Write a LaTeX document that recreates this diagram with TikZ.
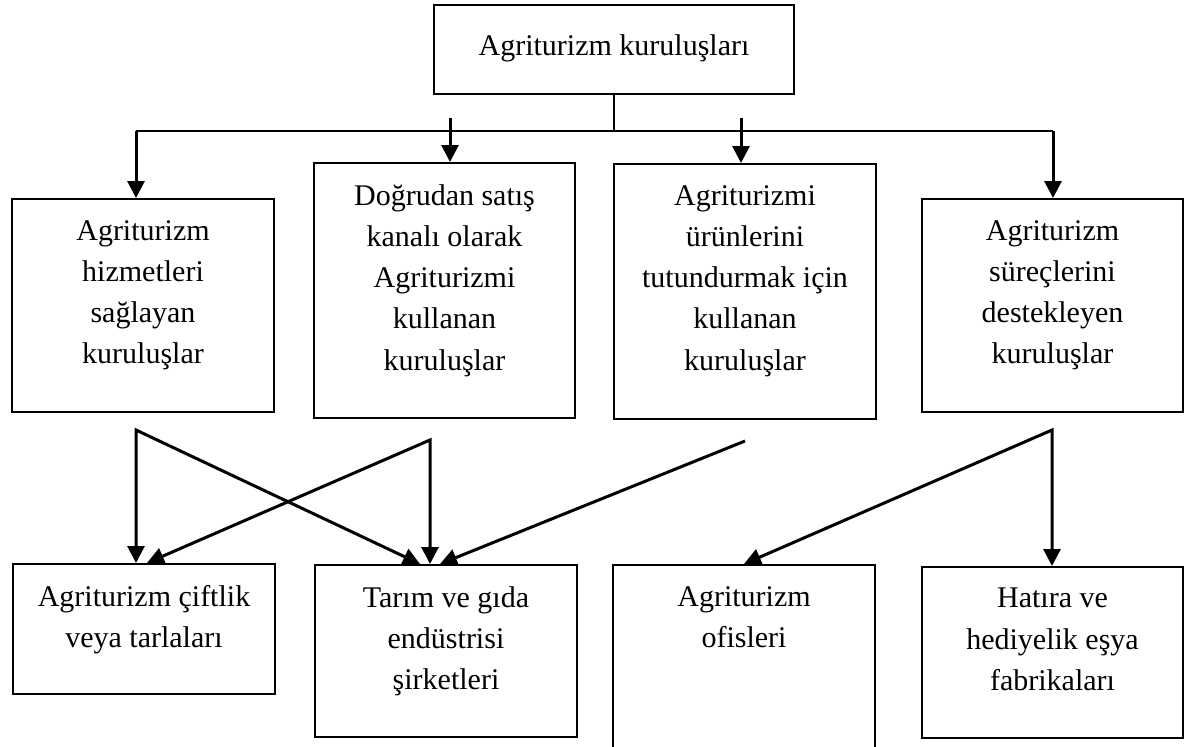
\documentclass[tikz,border=0pt]{standalone}
\usepackage{fontspec}
\setmainfont{Liberation Serif}
\usepackage{tikz}
\usetikzlibrary{positioning}
\usetikzlibrary{arrows,arrows.meta}
\usetikzlibrary{calc}
\tikzstyle{block} = [draw, line width=2pt, fill=white, rectangle, minimum width=262pt, inner sep=0pt]
\tikzstyle{txt} = [align=center, inner sep=0pt, node distance=22pt, font=\fontsize{30}{41.3}\selectfont, execute at begin node=\strut]
\tikzstyle{conn} = [draw, line width=3pt]
\tikzstyle{bus} = [draw, line width=1.7pt]
\tikzstyle{coord} = [coordinate]

\begin{document}
\begin{tikzpicture}[x=1pt, y=-1pt, >={Triangle[length=17pt, width=17pt]}]
	\clip (0,0) rectangle (1189,747);
	\fill [white] (0,0) rectangle (1189,747);

	\node [block, minimum width=360pt, minimum height=89pt] (kurulus) at (614,49.5) {};
	\node [txt, below=of kurulus.north] (kurulusT) {Agriturizm kuruluşları};

	\node [block, minimum height=213pt] (hizmet) at (143,305.5) {};
	\node [txt, below=of hizmet.north] (hizmetT) {Agriturizm\\hizmetleri\\sağlayan\\kuruluşlar};
	\node [block, minimum width=261pt, minimum height=255pt] (satis) at (444.5,290.5) {};
	\node [txt, below=of satis.north] (satisT) {Doğrudan satış\\kanalı olarak\\Agriturizmi\\kullanan\\kuruluşlar};
	\node [block, minimum height=255pt] (urun) at (745,291.5) {};
	\node [txt, below=of urun.north] (urunT) {Agriturizmi\\ürünlerini\\tutundurmak için\\kullanan\\kuruluşlar};
	\node [block, minimum width=261pt, minimum height=213pt] (destek) at (1052.5,305.5) {};
	\node [txt, below=of destek.north] (destekT) {Agriturizm\\süreçlerini\\destekleyen\\kuruluşlar};

	\node [block, minimum height=130pt] (ciftlik) at (144,629) {};
	\node [txt, below=of ciftlik.north] (ciftlikT) {Agriturizm çiftlik\\veya tarlaları};
	\node [block, minimum height=172pt] (gida) at (446,651) {};
	\node [txt, below=of gida.north] (gidaT) {Tarım ve gıda\\endüstrisi\\şirketleri};
	\node [block, minimum height=200pt] (ofis) at (744,665) {};
	\node [txt, below=of ofis.north] (ofisT) {Agriturizm\\ofisleri};
	\node [block, minimum width=261pt, minimum height=171pt] (hatira) at (1052.5,652.5) {};
	\node [txt, below=of hatira.north] (hatiraT) {Hatıra ve\\hediyelik eşya\\fabrikaları};

	\node [coord] (busL) at (136,131) {};
	\node [coord] (busR) at (1053,131) {};
	\node [coord] (satisIn) at (450,118) {};
	\node [coord] (urunIn) at (741,118) {};
	\node [coord] (hizmetOut) at (136,430) {};
	\node [coord] (satisOut) at (430,440) {};
	\node [coord] (urunOut) at (745,441) {};
	\node [coord] (destekOut) at (1052,430) {};

	\draw [bus] (kurulus.south) -- (kurulus.south |- busL);
	\draw [bus] (busL) -- (busR);
	\draw [->, conn] (busL) -- (busL |- hizmet.north);
	\draw [->, conn] (busR) -- (busR |- destek.north);
	\draw [->, conn] (satisIn) -- (satisIn |- satis.north);
	\draw [->, conn] (urunIn) -- (urunIn |- urun.north);

	\draw [<->, conn] ([xshift=-26pt]gida.north) -- (hizmetOut) -- (hizmetOut |- ciftlik.north);
	\draw [<->, conn] ([xshift=3pt]ciftlik.north) -- (satisOut) -- (satisOut |- gida.north);
	\draw [->, conn] (urunOut) -- ([xshift=-6pt]gida.north);
	\draw [<->, conn] (ofis.north) -- (destekOut) -- (destekOut |- hatira.north);

\end{tikzpicture}
\end{document}
